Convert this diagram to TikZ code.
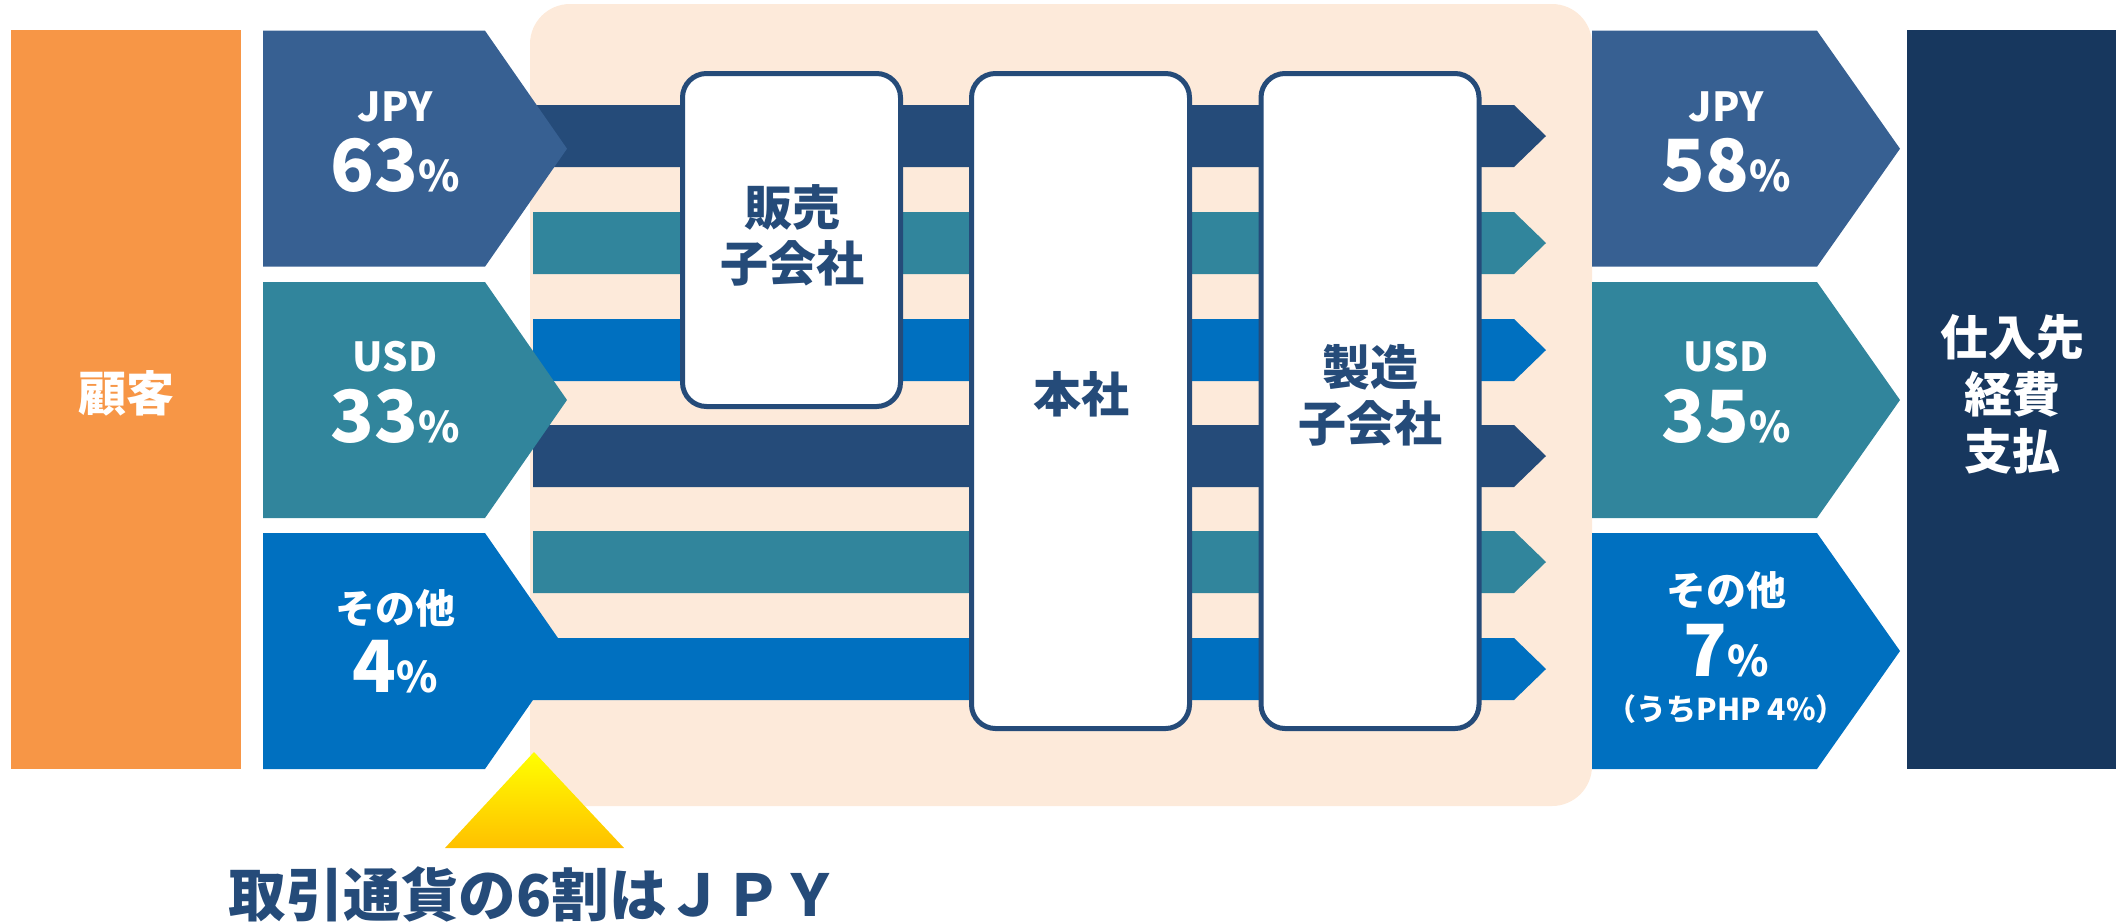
\documentclass[tikz,border=0pt]{standalone}
\usepackage{fontspec}
\setmainfont{Noto Sans CJK JP}
\definecolor{cOrange}{HTML}{F79646}
\definecolor{cJpy}{HTML}{376092}
\definecolor{cTeal}{HTML}{31859C}
\definecolor{cBlue}{HTML}{0070C0}
\definecolor{cDark}{HTML}{254B79}
\definecolor{cNavy}{HTML}{17375E}
\definecolor{cBeige}{HTML}{FDEADA}
\definecolor{cYelTop}{HTML}{FFFF00}
\definecolor{cYelBot}{HTML}{FFC000}
\newcommand\pctbig[1]{{\fontsize{36pt}{36pt}\selectfont #1}{\fontsize{21pt}{21pt}\selectfont\%}}
\begin{document}
\begin{tikzpicture}[x=0.5pt,y=-0.5pt,
  wt/.style={text=white,inner sep=0pt,align=center,font=\bfseries},
  cur/.style={wt,font=\bfseries\fontsize{20pt}{20pt}\selectfont},
  kana/.style={wt,font=\bfseries\fontsize{20pt}{20pt}\selectfont},
  bigt/.style={text=white,inner sep=0pt,align=center,font=\bfseries\fontsize{24pt}{28.5pt}\selectfont},
  entbox/.style={draw=cDark,line width=2.5pt,fill=white,rounded corners=12pt,inner sep=0pt,minimum width=109pt},
  boxtext/.style={text=cDark,inner sep=0pt,align=center,font=\bfseries\fontsize{24pt}{28pt}\selectfont}
]
\useasboundingbox (0,0) rectangle (2121,923);
% background
\fill[cBeige,rounded corners=20pt] (530,4) rectangle (1592,806);
% bars
\foreach \yt/\c in {105/cDark,212/cTeal,319/cBlue,425/cDark,531/cTeal,638/cBlue}{
  \fill[\c] (533,\yt) -- (1514,\yt) -- (1546,\yt+31) -- (1514,\yt+62) -- (533,\yt+62) -- cycle;
}
% left block
\node[fill=cOrange,minimum width=115pt,minimum height=369.5pt,inner sep=0pt] (cust) at (126,399.5) {};
\node[bigt] (custT) at (126,393) {顧客};
% left pentagons
\fill[cJpy]  (263,30.7) -- (485,30.7) -- (567,148.7) -- (485,266.7) -- (263,266.7) -- cycle;
\fill[cTeal] (263,282) -- (485,282) -- (567,400) -- (485,518) -- (263,518) -- cycle;
\fill[cBlue] (263,533) -- (485,533) -- (567,651) -- (485,769) -- (263,769) -- cycle;
\node[cur] (lJ1) at (395,107) {JPY};
\node[wt] (lJ2) at (395,165) {\pctbig{63}};
\node[cur] (lU1) at (395,357) {USD};
\node[wt] (lU2) at (395,416) {\pctbig{33}};
\node[kana] (lO1) at (395,608) {その他};
\node[wt] (lO2) at (395,667) {\pctbig{4}};
% entity boxes
\node[entbox,minimum height=166.5pt] (sales) at (791.5,240) {};
\node[entbox,minimum height=327.5pt] (hq) at (1080.5,401) {};
\node[entbox,minimum height=327.5pt] (mfg) at (1370,401) {};
\node[boxtext] (salesT) at (792,235) {販売\\子会社};
\node[boxtext] (hqT) at (1081,394) {本社};
\node[boxtext] (mfgT) at (1370,395) {製造\\子会社};
% right pentagons
\fill[cJpy]  (1592,30.7) -- (1817,30.7) -- (1900,148.7) -- (1817,266.7) -- (1592,266.7) -- cycle;
\fill[cTeal] (1592,282) -- (1817,282) -- (1900,400) -- (1817,518) -- (1592,518) -- cycle;
\fill[cBlue] (1592,533) -- (1817,533) -- (1900,651) -- (1817,769) -- (1592,769) -- cycle;
\node[cur] (rJ1) at (1726,107) {JPY};
\node[wt] (rJ2) at (1726,165) {\pctbig{58}};
\node[cur] (rU1) at (1726,357) {USD};
\node[wt] (rU2) at (1726,416) {\pctbig{35}};
\node[kana] (rO1) at (1726,590) {その他};
\node[wt] (rO2) at (1726,651) {\pctbig{7}};
\node[wt,font=\bfseries\fontsize{15pt}{15pt}\selectfont] (rO3) at (1726,709.5) {（うちPHP 4\%）};
% right block
\node[fill=cNavy,minimum width=104.5pt,minimum height=369.5pt,inner sep=0pt] (sup) at (2011.5,399.5) {};
\node[bigt] (supT) at (2012,394) {仕入先\\経費\\支払};
% highlight
\shade[top color=cYelTop,bottom color=cYelBot] (534,752) -- (624,848) -- (445,848) -- cycle;
\node[anchor=west,text=cDark,inner sep=0pt,font=\bfseries\fontsize{28.8pt}{28.8pt}\selectfont] (note) at (228,894) {取引通貨の6割はＪＰＹ};
\end{tikzpicture}
\end{document}
